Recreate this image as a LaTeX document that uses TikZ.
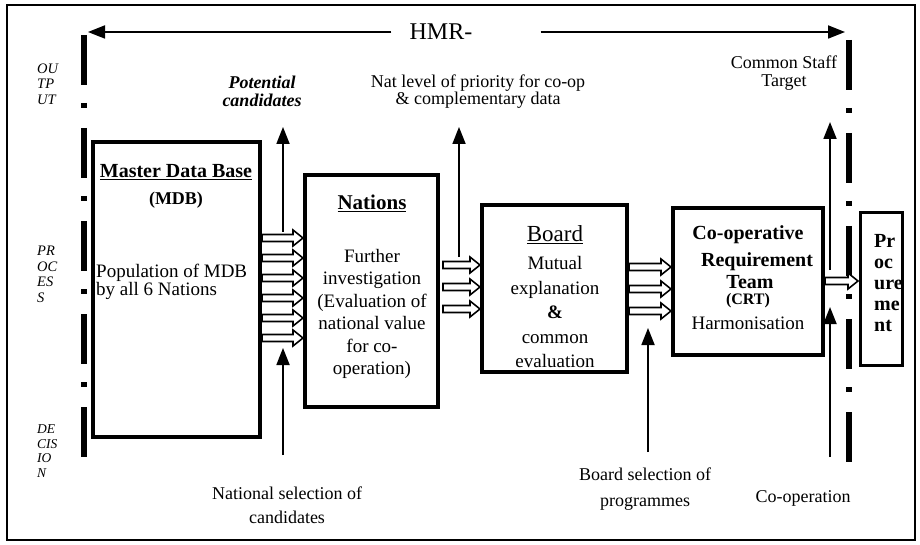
\documentclass[tikz,border=0pt]{standalone}
\usepackage{fontspec}
\setmainfont{Liberation Serif}
\usetikzlibrary{arrows.meta}
\tikzset{
 box/.style={draw, line width=4pt, inner sep=0pt},
 upar/.style={line width=1.8pt, -{Triangle[length=17pt,width=13pt]}},
 hmrar/.style={line width=1.8pt, -{Triangle[length=17pt,width=13pt]}},
 phaseline/.style={line width=6pt, dash pattern=on 50pt off 18pt on 5pt off 20pt},
 blk/.style={draw, fill=white, line width=1.6pt, line join=miter},
 body/.style={font=\fontsize{19}{22.4}\selectfont, align=center, inner sep=0pt},
 lbl/.style={font=\fontsize{18}{17.5}\selectfont, align=center, inner sep=0pt},
 sidelbl/.style={font=\itshape\fontsize{14.5}{15.5}\selectfont, align=left, anchor=west, inner sep=0pt},
 hdr/.style={font=\bfseries\fontsize{20}{20}\selectfont, inner sep=0pt},
}
\newcommand{\blkarrow}[3]{\draw[blk] (#1,#3-3.5) -- (#2-10,#3-3.5) -- (#2-10,#3-8) -- (#2,#3) -- (#2-10,#3+8) -- (#2-10,#3+3.5) -- (#1,#3+3.5) -- cycle;}
\begin{document}
\begin{tikzpicture}[x=1pt,y=-1pt]
\useasboundingbox (0,0) rectangle (920,545);
\draw[line width=1.3pt] (7,5) rectangle (915,540);

% HMR title with arrows
\node[font=\fontsize{24}{24}\selectfont, inner sep=0pt] (hmr) at (441,32) {HMR-};
\coordinate (hmrL) at (88,32);
\coordinate (hmrR) at (845,32);
\draw[hmrar] (hmr.west) ++(-18,0) coordinate (hl) (hl) -- (hmrL);
\draw[hmrar] (hmr.east) ++(68,0) coordinate (hr) (hr) -- (hmrR);

% phase lines
\coordinate (plT) at (84,35); \coordinate (plB) at (84,457);
\draw[phaseline] (plT) -- (plB);
\coordinate (prT) at (849,40); \coordinate (prB) at (849,463);
\draw[phaseline] (prT) -- (prB);

% side labels
\node[sidelbl] (out) at (37,84) {OU\\TP\\UT};
\node[sidelbl] (proc) at (37,274.5) {PR\\OC\\ES\\S};
\node[sidelbl, font=\itshape\fontsize{13.5}{14.5}\selectfont] (dec) at (37,451) {DE\\CIS\\IO\\N};

% boxes
\node[box, minimum width=167pt, minimum height=295pt] (mdb) at (176.5,289.5) {};
\node[box, minimum width=133pt, minimum height=232pt] (nat) at (371.5,291) {};
\node[box, minimum width=145pt, minimum height=167pt] (brd) at (554.5,288.5) {};
\node[box, minimum width=150pt, minimum height=147pt] (crt) at (748,281.5) {};
\node[box, line width=3pt, minimum width=42pt, minimum height=152pt] (pro) at (881,289) {};

% MDB text
\node[hdr] (mdbh) at (176,172) {\underline{Master Data Base}};
\node[hdr, font=\bfseries\fontsize{18}{18}\selectfont] (mdbs) at (176,200) {(MDB)};
\node[body, align=left, anchor=west, font=\fontsize{19}{18}\selectfont] (mdbt) at (96,282) {Population of MDB\\by all 6 Nations};

% Nations text
\node[hdr, font=\bfseries\fontsize{21}{21}\selectfont] (nath) at (372,203) {\underline{Nations}};
\node[body] (natt) at (372,314) {Further\\investigation\\(Evaluation of\\national value\\for co-\\operation)};

% Board text
\node[inner sep=0pt, font=\fontsize{23}{23}\selectfont] (brdh) at (555,235) {\underline{Board}};
\node[body, font=\fontsize{19}{24.5}\selectfont] (brdt) at (555,312) {Mutual\\explanation\\\textbf{\&}\\common\\evaluation};

% CRT text
\node[hdr] (crt1) at (748,235) {Co-operative};
\node[hdr] (crt2) at (757,262) {Requirement};
\node[hdr] (crt3) at (750,282) {Team};
\node[hdr, font=\bfseries\fontsize{16}{16}\selectfont] (crt4) at (748,301) {(CRT)};
\node[body] (crt5) at (748,323) {Harmonisation};

% Procurement text (clipped in its box)
\begin{scope}
\clip (862.5,214.5) rectangle (900,363.5);
\node[inner sep=0pt, anchor=north west, align=left, font=\bfseries\fontsize{20}{21}\selectfont] (prot) at (874,234) {Pr\\oc\\ure\\me\\nt};
\end{scope}

% block arrows
\foreach \y in {238,258,278,298,318,338} {\blkarrow{262}{303}{\y}}
\foreach \y in {265,287,309} {\blkarrow{443}{480}{\y}}
\foreach \y in {267,289,311} {\blkarrow{629}{671}{\y}}
\blkarrow{825}{858}{281}

% labels
\node[lbl, font=\bfseries\itshape\fontsize{18}{18.5}\selectfont] (pot) at (262,91.5) {Potential\\candidates};
\node[lbl] (natlev) at (478,91.5) {Nat level of priority for co-op\\\& complementary data};
\node[lbl, font=\fontsize{18}{18}\selectfont] (css) at (784,73) {Common Staff\\Target};
\node[lbl, font=\fontsize{18}{24}\selectfont] (natsel) at (287,505) {National selection of\\candidates};
\node[lbl, font=\fontsize{18}{26}\selectfont] (brdsel) at (645,489) {Board selection of\\programmes};
\node[lbl] (coop) at (803,498) {Co-operation};

% up arrows
\coordinate (a1s) at (283,232); \coordinate (a1t) at (283,127);
\coordinate (a2s) at (283,455); \coordinate (a2t) at (283,348);
\coordinate (a3s) at (459,257); \coordinate (a3t) at (459,127);
\coordinate (a4s) at (648,452); \coordinate (a4t) at (648,328);
\coordinate (a5s) at (830,270); \coordinate (a5t) at (830,122);
\coordinate (a6s) at (830,457); \coordinate (a6t) at (830,307);
\draw[upar] (a1s) -- (a1t);
\draw[upar] (a2s) -- (a2t);
\draw[upar] (a3s) -- (a3t);
\draw[upar] (a4s) -- (a4t);
\draw[upar] (a5s) -- (a5t);
\draw[upar] (a6s) -- (a6t);
\end{tikzpicture}
\end{document}
